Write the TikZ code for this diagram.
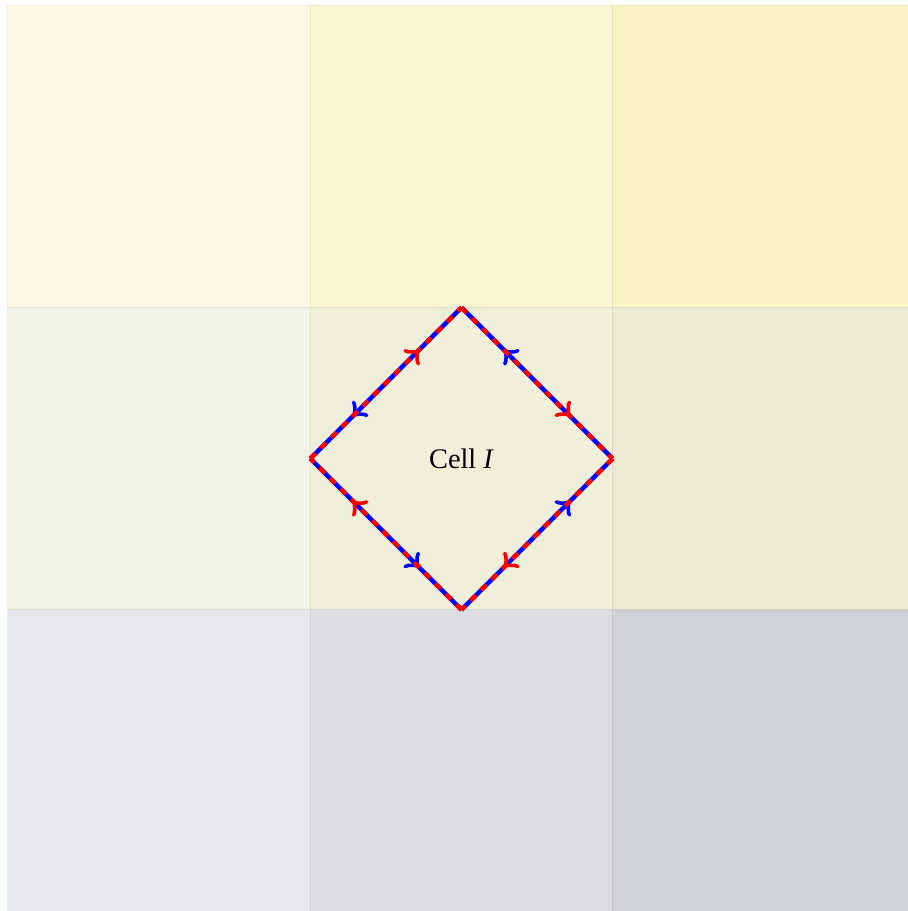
\documentclass[tikz,border=0pt]{standalone}
\usepackage{fontspec}
\setmainfont{Liberation Serif}
\usetikzlibrary{decorations.markings, arrows.meta}

\definecolor{cellA}{RGB}{254,249,228}
\definecolor{cellB}{RGB}{251,246,208}
\definecolor{cellC}{RGB}{250,243,195}
\definecolor{cellD}{RGB}{243,243,229}
\definecolor{cellE}{RGB}{240,239,218}
\definecolor{cellF}{RGB}{237,234,211}
\definecolor{cellG}{RGB}{231,232,236}
\definecolor{cellH}{RGB}{219,221,226}
\definecolor{cellK}{RGB}{208,210,218}

\tikzset{
  cellbox/.style={fill=#1, draw=#1!85!black, draw opacity=0.35, line width=0.3pt},
  redloop/.style={red, line width=1.25pt, dash pattern=on 2.1pt off 2.1pt, postaction={decorate}},
  blueloop/.style={blue, line width=1.25pt, postaction={decorate}}
}

\begin{document}
\begin{tikzpicture}[decoration={markings, mark= at position 0.72 with {\arrow{to[scale=1.35]}}}]
\useasboundingbox (-0.079,0.012) rectangle (8.929,9.05);

%% grid
\draw[cellbox=cellA] (0,6) rectangle (3,9);
\draw[cellbox=cellB] (3,6) rectangle (6,9);
\draw[cellbox=cellC] (6,6) rectangle (9,9);
\draw[cellbox=cellD] (0,3) rectangle (3,6);
\draw[cellbox=cellE] (3,3) rectangle (6,6);
\draw[cellbox=cellF] (6,3) rectangle (9,6);
\draw[cellbox=cellG] (0,0) rectangle (3,3);
\draw[cellbox=cellH] (3,0) rectangle (6,3);
\draw[cellbox=cellK] (6,0) rectangle (9,3);

%% diamond
\coordinate (L) at (3,4.5);
\coordinate (T) at (4.5,6);
\coordinate (R) at (6,4.5);
\coordinate (B) at (4.5,3);

\draw[blueloop] (T) -- (L);
\draw[blueloop] (L) -- (B);
\draw[blueloop] (B) -- (R);
\draw[blueloop] (R) -- (T);

\draw[redloop] (L) -- (T);
\draw[redloop] (T) -- (R);
\draw[redloop] (R) -- (B);
\draw[redloop] (B) -- (L);

\node (cell) at (4.5,4.5) {\fontsize{8}{10}\selectfont Cell \textit{I}};
\end{tikzpicture}
\end{document}
